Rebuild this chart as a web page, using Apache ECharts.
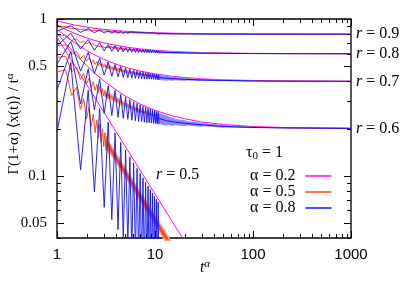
<!DOCTYPE html>
<html><head><meta charset="utf-8">
<script src="https://cdn.jsdelivr.net/npm/echarts@6/dist/echarts.min.js"></script>
<style>html,body{margin:0;padding:0;background:#fff}#c{width:409px;height:286px}</style>
</head><body><div id="c"></div>
<script>
// ---- tick labels ----
const xTickLabels = [1, 10, 100, 1000];
const yTickLabels = [1, 0.5, 0.1, 0.05];
const xMinorTicks = [2,3,4,5,6,7,8,9,20,30,40,50,60,70,80,90,200,300,400,500,600,700,800,900];
const yMinorTicks = [0.9,0.8,0.7,0.6,0.4,0.3,0.2,0.09,0.08,0.07,0.06,0.04];
const rNames = ['r = 0.9','r = 0.8','r = 0.7','r = 0.6'];
const rLevels = [0.8, 0.6, 0.4, 0.2];

// ---- alpha = 0.2 (magenta) ----
const magentaX = [1,1.25,1.5,2,2.5,3,4,5,7,10,15,20,30,50,100,200,1000];
const magR09 = [0.975,0.94,0.917,0.888,0.87,0.858,0.844,0.835,0.825,0.818,0.812,0.809,0.806,0.804,0.802,0.801,0.8];
const magR08 = [0.916,0.853,0.811,0.758,0.726,0.705,0.679,0.663,0.645,0.632,0.621,0.616,0.611,0.606,0.603,0.602,0.6];
const magR07 = [0.86,0.768,0.707,0.63,0.584,0.553,0.515,0.492,0.466,0.446,0.431,0.423,0.415,0.409,0.405,0.402,0.4];
const magR06 = [0.81,0.688,0.607,0.505,0.444,0.403,0.353,0.322,0.287,0.261,0.241,0.231,0.22,0.212,0.206,0.203,0.201];
const magR05 = [0.764,0.611,0.509,0.382,0.306,0.255,0.191,0.153,0.109,0.0764,0.0509,0.0382,0.0255];

// ---- alpha = 0.5 (orange) ----
const orangeX = [1,1.225,1.414,1.581,1.732,1.871,2,2.121,2.236,2.345,2.449,2.55,2.646,2.739,2.828,2.915,3,3.082,3.162,3.24,3.317];
const orR09 = [0.892,0.895,0.865,0.873,0.853,0.862,0.846,0.855,0.841,0.849,0.838,0.845,0.835,0.842,0.833,0.840,0.831,0.838,0.829,0.836,0.828];
const orR08 = [0.784,0.789,0.730,0.747,0.706,0.724,0.692,0.709,0.682,0.699,0.675,0.691,0.670,0.685,0.665,0.680,0.661,0.675,0.658,0.672,0.656];
const orR07 = [0.676,0.684,0.595,0.620,0.559,0.586,0.538,0.564,0.524,0.548,0.513,0.536,0.504,0.527,0.498,0.519,0.492,0.513,0.487,0.507,0.483];
const orR06 = [0.568,0.578,0.46,0.494,0.412,0.448,0.384,0.418,0.365,0.398,0.350,0.382,0.339,0.370,0.330,0.359,0.322,0.350,0.316,0.343,0.311];
const orR05 = [0.46,0.473,0.325,0.367,0.265,0.310,0.23,0.273,0.206,0.247,0.188,0.227,0.174,0.212,0.163,0.199,0.153,0.188,0.145,0.179,0.139];
const orangeBandX = [3.317,5,7,10,15,20,30,50,100,200,1000];
const orBandR09 = [0.831,0.821,0.815,0.810,0.807,0.805,0.803,0.802,0.801,0.8005,0.8];
const orBandR08 = [0.663,0.642,0.630,0.621,0.614,0.610,0.607,0.604,0.602,0.601,0.6];
const orBandR07 = [0.494,0.462,0.445,0.431,0.421,0.416,0.410,0.406,0.403,0.402,0.4];
const orBandR06 = [0.326,0.283,0.259,0.242,0.228,0.221,0.214,0.208,0.204,0.202,0.2];
const orBandR05 = [0.157,0.104,0.0743,0.052,0.0347];

// ---- alpha = 0.8 (blue) ----
const blueX = [1,1.383,1.741,2.081,2.408,2.724,3.031,3.331,3.624,3.911,4.193,4.470,4.743,5.012,5.278,5.541,5.800,6.056,6.310,6.561,6.810,7.056,7.300,7.543,7.783,8.022,8.258,8.493,8.727,8.958,9.190,9.418,9.646,9.873,10.10,10.32,10.54,10.77,10.99];
const blR09 = [0.838,0.906,0.822,0.870,0.816,0.854,0.8125,0.844,0.810,0.837,0.809,0.833,0.808,0.829,0.807,0.826,0.8066,0.824,0.806,0.822,0.8056,0.821,0.805,0.819,0.805,0.818,0.8046,0.817,0.8044,0.816,0.804,0.8155,0.804,0.815,0.8038,0.814,0.8036,0.8136,0.8035];
const blR08 = [0.676,0.811,0.644,0.740,0.632,0.707,0.625,0.688,0.621,0.675,0.618,0.665,0.616,0.658,0.614,0.653,0.613,0.648,0.612,0.645,0.611,0.641,0.610,0.639,0.610,0.636,0.609,0.634,0.609,0.633,0.608,0.631,0.608,0.630,0.6075,0.628,0.607,0.627,0.607];
const blR07 = [0.514,0.717,0.465,0.611,0.447,0.561,0.438,0.531,0.431,0.512,0.427,0.498,0.424,0.487,0.4216,0.479,0.420,0.472,0.418,0.467,0.417,0.462,0.4156,0.458,0.4146,0.455,0.4138,0.4515,0.413,0.449,0.4124,0.4465,0.4118,0.4443,0.4113,0.4424,0.4108,0.4407,0.4104];
const blR06 = [0.352,0.622,0.287,0.481,0.263,0.414,0.250,0.375,0.242,0.350,0.236,0.330,0.232,0.316,0.229,0.305,0.226,0.296,0.224,0.289,0.222,0.283,0.221,0.277,0.2195,0.273,0.218,0.269,0.2174,0.265,0.2166,0.262,0.2158,0.259,0.215,0.2566,0.2144,0.254,0.2138];
const blR05 = [0.19,0.528,0.109,0.351,0.0789,0.268,0.0627,0.219,0.0524,0.187,0.0453,0.163,0.0401,0.1456,0.036,0.1318,0.0328,0.1205,0.0301,0.1113,0.0279,0.1034,0.026,0.0968,0.0244,0.091,0.023,0.0859,0.0218,0.0815,0.0207,0.0775,0.0197,0.0739,0.0188,0.0707,0.018,0.0678,0.0173];
const blueBandX = [10.99,13,15,20,30,50,100,200,1000];
const blBandR09 = [0.8075,0.8062,0.805,0.804,0.8027,0.8016,0.8008,0.8004,0.8001];
const blBandR08 = [0.6146,0.6123,0.611,0.608,0.605,0.603,0.6016,0.6008,0.6002];
const blBandR07 = [0.424,0.4185,0.416,0.412,0.408,0.405,0.4024,0.4012,0.4002];
const blBandR06 = [0.232,0.2246,0.221,0.216,0.211,0.206,0.203,0.2016,0.2003];

const MAG = '#ff00ff', ORA = '#ff4a10', BLU = '#1010ff';
const ORA_L = '#ffa07a', BLU_L = '#8c8cff';
const NAME = {m:'α = 0.2', o:'α = 0.5', b:'α = 0.8'};
function zip(xs, ys, a, b){ const out=[]; const e=Math.min(ys.length-1, b===undefined?ys.length-1:b); for(let i=(a||0); i<=e; i++) out.push([xs[i], ys[i]]); return out; }
function S(name, color, data, w, op){
  return {type:'line', name, data, symbol:'none', silent:true, animation:false,
    lineStyle:{color, width:w, opacity:op, cap:'round', join:'round'}, itemStyle:{color}, z:2};
}
const series = [];
[magR09,magR08,magR07,magR06,magR05].forEach(a=>series.push(S(NAME.m, MAG, zip(magentaX, a), 1, 1)));
// orange: band segments (fuzz of the dense teeth), then teeth + core line
const orWidths = [[1.5,1.3,1.1,1,1,1,1],[2.5,2,1.6,1.3,1.1,1,1],[3.5,3,2.5,2,1.6,1.3,1],[5,4,3,2.5,2,1.5,1.2]];
[orBandR09,orBandR08,orBandR07,orBandR06].forEach((b,k)=>{
  orWidths[k].forEach((w,j)=>series.push(S(NAME.o, ORA_L, zip(orangeBandX, b, j, j+1), w, 1)));
});
series.push(S(NAME.o, ORA_L, zip(orangeBandX, orBandR05), 6, 1));
[orR09,orR08,orR07,orR06,orR05].forEach(t=>series.push(S(NAME.o, ORA, zip(orangeX, t), 1, 1)));
[orBandR09,orBandR08,orBandR07,orBandR06].forEach(b=>series.push(S(NAME.o, ORA, zip(orangeBandX, b), 1, 1)));
series.push(S(NAME.o, ORA, zip(orangeBandX, orBandR05), 3, 1));
// blue: band segments, then teeth + core line
const blWidths = [[1.5,1.3,1.2,1,1,1],[2.5,2,1.8,1.5,1.2,1],[5,4,3,2.2,1.6,1.2],[10,8,6,4,2.5,1.5]];
[blBandR09,blBandR08,blBandR07,blBandR06].forEach((b,k)=>{
  blWidths[k].forEach((w,j)=>series.push(S(NAME.b, BLU_L, zip(blueBandX, b, j, j+1), w, 1)));
});
[blR09,blR08,blR07,blR06,blR05].forEach(t=>series.push(S(NAME.b, BLU, zip(blueX, t), 1, 0.9)));
[blBandR09,blBandR08,blBandR07,blBandR06].forEach(b=>series.push(S(NAME.b, BLU, zip(blueBandX, b), 1, 1)));

const chart = echarts.init(document.getElementById('c'), null, {renderer:'canvas'});
const SERIF = '"Liberation Serif","DejaVu Serif",serif';
const SANS = '"Liberation Sans","DejaVu Sans",sans-serif';
chart.setOption({
  animation:false,
  backgroundColor:'#fff',
  color:[MAG, ORA, BLU],
  grid:{left:57, right:58, top:19, bottom:48, show:true, borderColor:'#000', borderWidth:1.3, backgroundColor:'transparent'},
  xAxis:{type:'log', logBase:10, min:1, max:1000, axisLine:{show:false}, axisTick:{show:false}, axisLabel:{show:false}, splitLine:{show:false}},
  yAxis:{type:'log', logBase:10, min:0.04, max:1, axisLine:{show:false}, axisTick:{show:false}, axisLabel:{show:false}, splitLine:{show:false}},
  legend:{data:[{name:NAME.m, itemStyle:{color:MAG}}, {name:NAME.o, itemStyle:{color:ORA}}, {name:NAME.b, itemStyle:{color:BLU}}],
    orient:'vertical', left:245, top:163, align:'right', icon:'rect',
    itemWidth:26, itemHeight:1.5, itemGap:0, selectedMode:false,
    textStyle:{fontFamily:SERIF, fontSize:16, color:'#000', lineHeight:14, padding:[0,5,0,0]}},
  series
});

// ---- axes decorations: ticks and labels placed through the axis scales ----
const g = [];
const L = 57, R = 351, T = 19, B = 238;
function px(v){ return chart.convertToPixel({xAxisIndex:0}, v); }
function py(v){ return chart.convertToPixel({yAxisIndex:0}, v); }
function tick(x1,y1,x2,y2){ g.push({type:'line', shape:{x1,y1,x2,y2}, style:{stroke:'#000', lineWidth:1}, silent:true, z:10}); }
xTickLabels.forEach(v=>{ const x=Math.round(px(v))+0.5; tick(x,B,x,B-7); tick(x,T,x,T+7);
  g.push({type:'text', x:px(v), y:255, style:{text:String(v), font:'15px '+SANS, fill:'#000', align:'center', verticalAlign:'middle'}, z:10}); });
xMinorTicks.forEach(v=>{ const x=Math.round(px(v))+0.5; tick(x,B,x,B-4); tick(x,T,x,T+4); });
yTickLabels.forEach(v=>{ const y=Math.round(py(v))+0.5; tick(L,y,L+7,y); tick(R,y,R-7,y);
  g.push({type:'text', x:47, y:py(v), style:{text:String(v), font:'15px '+SERIF, fill:'#000', align:'right', verticalAlign:'middle'}, z:10}); });
yMinorTicks.forEach(v=>{ const y=Math.round(py(v))+0.5; tick(L,y,L+4,y); tick(R,y,R-4,y); });
rLevels.forEach((v,i)=>{
  g.push({type:'text', x:356, y:py(v), style:{rich:{i:{font:'italic 16px '+SERIF}, n:{font:'16px '+SERIF}}, text:'{i|r}{n| = '+rNames[i].split('= ')[1]+'}', fill:'#000', align:'left', verticalAlign:'middle'}, z:10});
});
g.push({type:'text', x:156, y:175, style:{rich:{i:{font:'italic 16px '+SERIF}, n:{font:'16px '+SERIF}}, text:'{i|r}{n| = 0.5}', fill:'#000', align:'left', verticalAlign:'middle'}, z:10});
g.push({type:'text', x:246, y:153, style:{rich:{n:{font:'16px '+SERIF}, s:{font:'11px '+SERIF, verticalAlign:'bottom', padding:[6,0,0,0]}}, text:'{n|τ}{s|0}{n| = 1}', fill:'#000', align:'left', verticalAlign:'middle'}, z:10});
g.push({type:'text', x:205, y:268, style:{rich:{n:{font:'italic 16px '+SERIF}, s:{font:'italic 11px '+SERIF, padding:[0,0,8,0]}}, text:'{n|t}{s|α}', fill:'#000', align:'center', verticalAlign:'middle'}, z:10});
g.push({type:'text', x:14, y:124, rotation:Math.PI/2, style:{rich:{n:{font:'15px '+SERIF}, s:{font:'11px '+SERIF, padding:[0,0,8,0]}}, text:'{n|Γ(1+α) ⟨x(t)⟩ / t}{s|α}', fill:'#000', align:'center', verticalAlign:'middle'}, z:10});
chart.setOption({graphic:g});
</script></body></html>
